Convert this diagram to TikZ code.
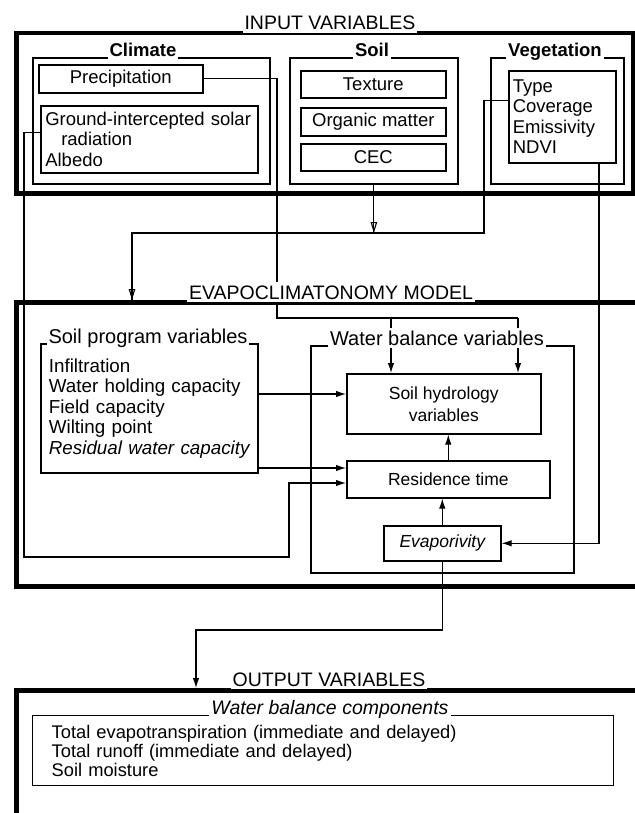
\documentclass[tikz,border=0pt]{standalone}
\usepackage{fontspec}
\setmainfont{Liberation Sans}
\usetikzlibrary{arrows.meta}
\newcommand\fsz[2]{\fontsize{#1}{#2}\selectfont}
\begin{document}
\begin{tikzpicture}[x=1pt,y=-1pt,
  thickbox/.style={draw, line width=4.5pt, anchor=north west, inner sep=0pt},
  grp/.style={draw, line width=1.8pt, anchor=north west, inner sep=0pt},
  itembox/.style={draw, line width=1.6pt, anchor=north west, inner sep=0pt, font=\fsz{18.5}{20.5}},
  maintitle/.style={fill=white, inner xsep=2pt, inner ysep=3pt, anchor=base, font=\fsz{19.5}{22}},
  subtitle/.style={fill=white, inner xsep=2pt, inner ysep=3pt, anchor=base, font=\bfseries\fsz{18.5}{20}},
  subtitleb/.style={fill=white, inner xsep=2pt, inner ysep=3pt, anchor=base, font=\fsz{20}{22}},
  conn/.style={line width=1.1pt},
  arr/.style={conn, -{Latex[length=10pt,width=6.5pt]}},
  oarr/.style={conn, -{Triangle[open, length=11pt, width=6.5pt, line width=1.1pt]}}
]
\useasboundingbox (0,0) rectangle (634,813);

% ---------------- INPUT VARIABLES ----------------
\node[thickbox, minimum width=617, minimum height=160] (input) at (14,31) {};
\node[grp, minimum width=237, minimum height=126] (climate) at (32,57) {};
\node[itembox, minimum width=164, minimum height=28] (precip) at (38,64) {Precipitation};
\node[itembox, minimum width=217, minimum height=67, align=left, text width=208, inner xsep=4.5pt] (ground) at (40,105)
  {Ground-intercepted solar\\\hspace*{16pt}radiation\\Albedo};

\node[grp, minimum width=168, minimum height=126] (soil) at (289,57) {};
\node[itembox, minimum width=145, minimum height=27] (texture) at (300,70) {Texture};
\node[itembox, minimum width=145, minimum height=28] (organic) at (300,107) {Organic matter};
\node[itembox, minimum width=145, minimum height=27] (cec) at (300,143) {CEC};

\node[grp, minimum width=133, minimum height=126] (veg) at (490,57) {};
\node[itembox, minimum width=107, minimum height=92, align=left, text width=99, inner xsep=4pt] (vegvars) at (508,70)
  {Type\\Coverage\\Emissivity\\NDVI};

% ---------------- EVAPOCLIMATONOMY MODEL ----------------
\node[thickbox, minimum width=640, minimum height=284] (evapo) at (14,300) {};
\node[grp, minimum width=217, minimum height=129, align=left, text width=201, inner xsep=8pt, font=\fsz{18.8}{20.5}] (soilprog) at (40,343)
  {Infiltration\\Water holding capacity\\Field capacity\\Wilting point\\\itshape Residual water capacity};
\node[grp, minimum width=263, minimum height=227] (wb) at (310,345) {};
\node[itembox, minimum width=194, minimum height=60, align=center, font=\fsz{17.5}{22}] (soilhyd) at (346,373) {Soil hydrology\\variables};
\node[itembox, minimum width=203, minimum height=37, font=\fsz{17.5}{20}] (res) at (346,460) {Residence time};
\node[itembox, minimum width=117, minimum height=35, font=\itshape\fsz{17.5}{20}] (evap) at (383,525) {Evaporivity};

% ---------------- OUTPUT VARIABLES ----------------
\node[thickbox, minimum width=640, minimum height=150] (output) at (14,688) {};
\node[grp, line width=1.4pt, minimum width=581, minimum height=70, align=left, text width=543, inner xsep=19pt, font=\fsz{18.3}{19}] (wbc) at (32,715)
  {Total evapotranspiration (immediate and delayed)\\Total runoff (immediate and delayed)\\Soil moisture};

% ---------------- connectors ----------------
\coordinate (pturn) at (277,318);
\coordinate (pend) at (518,318);
\coordinate (ja) at (391,318);
\draw[conn] (precip.east) -| (pturn) -- (pend);
\draw[arr] (ja) -- (ja |- soilhyd.north);
\draw[arr] (pend) -- (pend |- soilhyd.north);

\coordinate (g1) at (24,557);
\coordinate (g2) at (289,483);
\draw[arr] ([yshift=6.5pt]ground.west) -| (g1) -| (g2) -- (g2 -| res.west);

\coordinate (vj) at (484,233);
\coordinate (vk) at (132,233);
\draw[conn] (soil.south) -- (soil.south |- vj);
\draw[oarr] (soil.south) -- (soil.south |- vj);
\draw[conn] ([yshift=16pt]vegvars.west) -| (vj) -- (vk) -- (vk |- evapo.north);
\draw[oarr] (vk) -- (vk |- evapo.north);

\coordinate (nd) at (599,542);
\draw[arr] (vegvars.south -| nd) |- (evap.east);

\coordinate (sa) at (257,394);
\coordinate (sb) at (257,468);
\draw[arr] (sa) -- (sa -| soilhyd.west);
\draw[arr] (sb) -- (sb -| res.west);
\draw[arr] (res.north) -- (res.north |- soilhyd.south);
\draw[arr] (evap.north) -- (evap.north |- res.south);

\coordinate (oc) at (196,630);
\draw[arr] (evap.south) |- (oc) -- (oc |- output.north);

% ---------------- titles ----------------
\node[maintitle] (tin) at (330,30) {INPUT VARIABLES};
\node[subtitle] (tclim) at (143,57) {Climate};
\node[subtitle] (tsoil) at (372,57) {Soil};
\node[subtitle] (tveg) at (555,57) {Vegetation};
\node[maintitle] (tevapo) at (331,299) {EVAPOCLIMATONOMY MODEL};
\node[subtitleb] (tsp) at (148,343) {Soil program variables};
\node[subtitleb] (twb) at (437,345) {Water balance variables};
\node[maintitle] (tout) at (329,686) {OUTPUT VARIABLES};
\node[subtitleb, font=\itshape\fsz{19.5}{22}] (twbc) at (330,714) {Water balance components};
\end{tikzpicture}
\end{document}
